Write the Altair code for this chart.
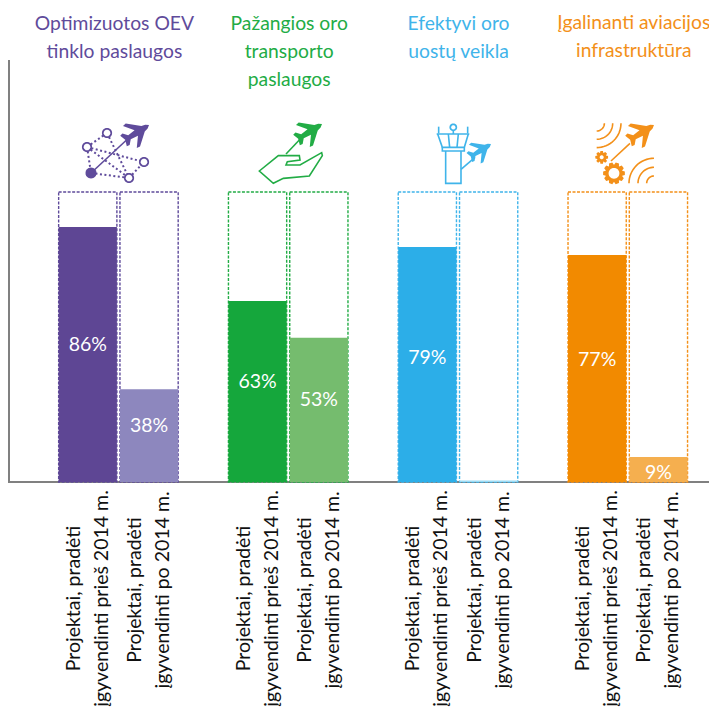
import math
import altair as alt
import pandas as pd

groups = ["Optimizuotos OEV\ntinklo paslaugos", "Pažangios oro\ntransporto\npaslaugos",
          "Efektyvi oro\nuostų veikla", "Įgalinanti aviacijos\ninfrastruktūra"]
sides = ["prieš", "po"]
keys = ["a0", "a1", "b0", "b1", "c0", "c1", "d0", "d1"]
bar_heights = [87.9, 32.0, 62.4, 49.7, 81.0, 0.5, 78.3, 8.6]
bar_labels = ["86%", "38%", "63%", "53%", "79%", "", "77%", "9%"]
label_levels = [47.4, 19.2, 34.5, 28.2, 42.6, 0, 42.2, 3.0]
axis_labels = {"prieš": "Projektai, pradėti\nįgyvendinti prieš 2014 m.",
               "po": "Projektai, pradėti\nįgyvendinti po 2014 m."}

palette = ["#5E4694", "#8D87BE", "#15A73C", "#75BC6E", "#2CAEE8", "#9ADBF5", "#F28A00", "#F5AF4F"]
dark = ["#5F4B9B", "#22AC45", "#3FB4EA", "#F39019"]

rows = [{"group": groups[i // 2], "side": sides[i % 2], "key": keys[i], "height": bar_heights[i],
         "label": bar_labels[i], "level": label_levels[i], "axis": axis_labels[sides[i % 2]]} for i in range(8)]
df = pd.DataFrame(rows)

x = alt.X("group:N", sort=groups, axis=None,
          scale=alt.Scale(domain=groups, range=[50.65, 679.55], paddingInner=0.296, paddingOuter=0))
xo = alt.XOffset("side:N", sort=sides, scale=alt.Scale(domain=sides, paddingInner=0.05, paddingOuter=0))
ysc = alt.Scale(domain=[0, 100], range=[474, 184])
y = alt.Y("height:Q", scale=ysc, axis=None)
col = alt.Color("key:N", scale=alt.Scale(domain=keys, range=palette), legend=None)


# ---- icon geometry helpers (local drawing of the pictograms) ----
def poly(pts, close=False):
    return "M" + "L".join(f"{a:.2f},{b:.2f}" for a, b in pts) + ("Z" if close else "")


def circle(cx, cy, r, rev=False, n=28):
    rng = range(n, 0, -1) if rev else range(n)
    return poly([(cx + r * math.cos(2 * math.pi * k / n), cy + r * math.sin(2 * math.pi * k / n)) for k in rng], True)


def arc(cx, cy, r, a0, a1, n=16):
    return poly([(cx + r * math.cos(math.radians(a0 + (a1 - a0) * k / n)),
                  cy + r * math.sin(math.radians(a0 + (a1 - a0) * k / n))) for k in range(n + 1)])


def gear(cx, cy, ro, ri, hole, teeth=8):
    pts = []
    for t in range(teeth):
        c = 2 * math.pi * t / teeth
        w = math.pi / teeth
        for off, r in [(-w * .95, ri), (-w * .5, ro), (w * .5, ro), (w * .95, ri)]:
            pts.append((cx + r * math.cos(c + off), cy + r * math.sin(c + off)))
    return poly(pts, True) + circle(cx, cy, hole, rev=True)


PLANE = [(0, 0), (3, 2.2), (7, 3.2), (19, 13.5), (22.5, 13), (15, 3.2), (23, 2.4), (27, 6.8), (30, 6.2), (28, 0)]


def plane(nx, ny, s=1.0):
    ax, ay = -0.85, 0.53
    px, py = 0.53, 0.85
    half = PLANE + [(a, -b) for a, b in reversed(PLANE[1:-1])]
    return poly([(nx + s * (a * ax + b * px), ny + s * (a * ay + b * py)) for a, b in half], True)


def z(ox, oy, pts):
    return [(ox + a / 3, oy + b / 3) for a, b in pts]


def to_unit(path, ax, ay):
    out = []
    for token in path.replace("M", " M ").replace("L", " L ").replace("Z", " Z ").split():
        if token in "MLZ":
            out.append(token)
        else:
            a, b = token.split(",")
            out.append(f"{(float(a) - ax) / 45:.4f},{(float(b) - ay) / 45:.4f}")
    return " ".join(out)


anchors = [118.4, 288.2, 458.0, 627.8]
ICON_Y = 152

net = [(107, 133), (87, 147), (144, 162), (129, 178)]
icons = [
    {"dot": [poly([(87, 147), (107, 133)]), poly([(107, 133), (129, 178)]), poly([(87, 147), (144, 162)]),
             poly([(87, 147), (129, 178)]), poly([(87, 147), (91, 173)]), poly([(91, 173), (129, 178)]),
             poly([(129, 178), (144, 162)])],
     "line": [poly([(91, 173), (133, 134)])],
     "ring": [circle(a, b, 4.2) for a, b in net],
     "fill": [plane(149, 125), circle(91, 173, 5.5)]},
    {"dot": [], "ring": [],
     "fill": [plane(322, 124)],
     "line": [poly([(286, 154), (305, 134)]),
              poly(z(250, 115, [(28, 168), (85, 122), (148, 122), (150, 135), (112, 140), (108, 150), (150, 150),
                                (215, 113), (217, 122), (178, 183), (100, 190), (70, 205)]), True)]},
    {"dot": [], "ring": [circle(453.3, 127.3, 3)],
     "fill": [plane(491, 144, 0.85)],
     "line": [poly(z(425, 115, [(41, 35), (41, 55)])), poly(z(425, 115, [(128, 35), (128, 55)])),
              poly(z(425, 115, [(35, 57), (133, 57)])),
              poly(z(425, 115, [(38, 57), (52, 97), (118, 97), (130, 57)])),
              poly(z(425, 115, [(70, 57), (74, 97)])), poly(z(425, 115, [(100, 57), (96, 97)])),
              poly(z(425, 115, [(52, 97), (52, 108), (118, 108), (118, 97)])),
              poly(z(425, 115, [(62, 108), (62, 205), (108, 205), (108, 108)])),
              poly(z(425, 115, [(85, 44), (85, 57)])),
              poly(z(425, 115, [(108, 163), (150, 127)]))]},
    {"dot": [], "ring": [],
     "fill": [plane(654, 125), gear(601.7, 157.3, 6.5, 4.6, 2), gear(614, 173.3, 11, 8.6, 5.4, teeth=10)],
     "line": [poly(z(585, 115, [(78, 138), (135, 85)])),
              arc(596.7, 123.3, 7.7, 0, 90), arc(596.7, 123.3, 16, 0, 90), arc(596.7, 123.3, 24.3, 0, 90),
              arc(654, 183.3, 7.3, 180, 270), arc(654, 183.3, 16, 180, 270), arc(654, 183.3, 25, 180, 270)]},
]

layers = []

# axes lines
layers.append(alt.Chart(df).mark_rule(color="#808080", strokeWidth=2).encode(
    x=alt.value(1), y=alt.value(52), y2=alt.value(474)))
layers.append(alt.Chart(df).mark_rule(color="#808080", strokeWidth=2).encode(
    x=alt.value(0), x2=alt.value(701), y=alt.value(474)))

# dashed 100 % frames
frames = df.assign(full=100)
layers.append(alt.Chart(frames).mark_bar(fill="white", fillOpacity=0, strokeWidth=1.4, strokeDash=[3, 1.5]).encode(
    x=x, xOffset=xo, y=alt.Y("full:Q", scale=ysc, axis=None),
    stroke=alt.Stroke("key:N", scale=alt.Scale(domain=keys, range=[dark[i // 2] for i in range(8)]), legend=None)))

# value bars
layers.append(alt.Chart(df).mark_bar().encode(x=x, xOffset=xo, y=y, color=col))

# bar labels
layers.append(alt.Chart(df[df.label != ""]).mark_text(
    font="Lato", fontSize=19.5, color="white", baseline="middle").encode(
    x=x, xOffset=xo, y=alt.Y("level:Q", scale=ysc, axis=None), text="label:N"))

# rotated category labels
for side, ypix in (("prieš", 590.5), ("po", 582)):
    layers.append(alt.Chart(df[df.side == side]).mark_text(
        font="Lato", fontSize=19.5, color="#111111", angle=270, baseline="middle", align="center",
        lineBreak="\n", lineHeight=28, dy=-14).encode(x=x, xOffset=xo, y=alt.value(ypix), text="axis:N"))

# titles
title_dx = [-4, 1, 0.5, 6]
for i, g in enumerate(groups):
    layers.append(alt.Chart(pd.DataFrame({"group": [g]})).mark_text(
        font="Lato", fontSize=19.3, color=dark[i], baseline="middle", align="center", lineBreak="\n",
        lineHeight=28, dx=title_dx[i]).encode(
        x=x, y=alt.value(16 if i != 3 else 15), text="group:N"))

# pictograms
ICON_PIX = alt.value(ICON_Y - 8)
for i, g in enumerate(groups):
    d = pd.DataFrame({"group": [g]})
    ax = anchors[i]
    for p in icons[i]["dot"]:
        layers.append(alt.Chart(d).mark_point(shape=to_unit(p, ax, ICON_Y), size=8100, filled=False, opacity=1,
                                              color=dark[i], strokeWidth=2, strokeDash=[2, 2.5]).encode(
            x=x, y=ICON_PIX))
    for p in icons[i]["line"]:
        layers.append(alt.Chart(d).mark_point(shape=to_unit(p, ax, ICON_Y), size=8100, filled=False, opacity=1,
                                              color=dark[i], strokeWidth=1.6).encode(x=x, y=ICON_PIX))
    for p in icons[i]["ring"]:
        layers.append(alt.Chart(d).mark_point(shape=to_unit(p, ax, ICON_Y), size=8100, opacity=1, fill="white",
                                              stroke=dark[i], strokeWidth=1.8).encode(x=x, y=ICON_PIX))
    for p in icons[i]["fill"]:
        layers.append(alt.Chart(d).mark_point(shape=to_unit(p, ax, ICON_Y), size=8100, filled=True, opacity=1,
                                              color=dark[i], strokeWidth=0).encode(x=x, y=ICON_PIX))

chart = alt.layer(*layers).properties(
    width=701, height=701, padding=0, background="white",
    autosize=alt.AutoSizeParams(type="none", contains="padding")).configure_view(strokeWidth=0)
chart.save("out.html", embed_options={"renderer": "svg", "actions": False})
